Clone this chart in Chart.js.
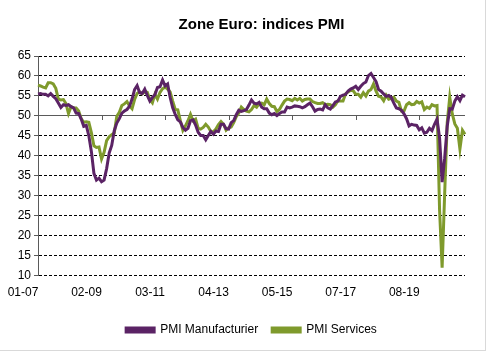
<!DOCTYPE html>
<html>
<head>
<meta charset="utf-8">
<script src="https://cdn.jsdelivr.net/npm/chart.js@4"></script>
<style>
  body { margin: 0; background: #fff; }
</style>
</head>
<body>
<canvas id="grafico" width="487" height="352"></canvas>
<script>
// PMI zone euro, mensuel, de 01-2007 a 01-2021
const manuf = [
  55.5, 55.6, 55.4, 55.4, 55.0, 55.6, 54.9, 54.3, 53.2, 52.1, 52.8, 52.6,
  52.8, 52.3, 52.0, 50.7, 50.6, 49.2, 47.4, 47.6, 45.0, 41.1, 35.6, 33.9,
  34.4, 33.5, 33.9, 36.8, 40.7, 42.6, 46.3, 48.2, 49.3, 50.7, 51.2, 51.6,
  52.4, 54.2, 56.6, 57.6, 55.8, 55.6, 56.7, 55.1, 53.7, 54.6, 55.3, 57.1,
  57.3, 59.0, 57.5, 58.0, 54.6, 52.0, 50.4, 49.0, 48.5, 47.1, 46.4, 46.9,
  48.8, 49.0, 47.7, 45.9, 45.1, 45.1, 44.0, 45.1, 46.1, 45.4, 46.2, 46.1,
  47.9, 47.9, 46.8, 46.7, 48.3, 48.8, 50.3, 51.4, 51.1, 51.3, 51.6, 52.7,
  54.0, 53.2, 53.0, 53.4, 52.2, 51.8, 51.8, 50.7, 50.3, 50.6, 50.1, 50.6,
  51.0, 51.0, 52.2, 52.0, 52.2, 52.5, 52.4, 52.3, 52.0, 52.3, 52.8, 53.2,
  52.3, 51.2, 51.6, 51.7, 51.5, 52.8, 52.0, 51.7, 52.6, 53.5, 53.7, 54.9,
  55.2, 55.4, 56.2, 56.7, 57.0, 57.4, 56.6, 57.4, 58.1, 58.5, 60.1, 60.6,
  59.6, 58.6, 56.6, 56.2, 55.5, 54.9, 55.1, 54.6, 53.2, 52.0, 51.8, 51.4,
  50.5, 49.3, 47.5, 47.9, 47.7, 47.6, 46.5, 47.0, 45.7, 45.9, 46.9, 46.3,
  47.9, 49.2, 44.5, 33.4, 39.4, 47.4, 51.8, 51.7, 53.7, 54.8, 53.8, 55.2,
  54.8
];

const services = [
  57.7, 57.5, 57.2, 57.0, 58.3, 58.3, 58.0, 56.9, 54.2, 54.0, 54.1, 53.1,
  50.6, 52.3, 52.0, 52.0, 51.2, 49.3, 48.4, 48.5, 48.4, 45.8, 42.5, 42.1,
  42.2, 39.2, 40.9, 43.8, 44.8, 45.3, 45.7, 49.9, 50.9, 52.6, 53.0, 53.6,
  52.5, 51.8, 54.1, 55.6, 56.0, 55.5, 56.0, 55.9, 54.1, 53.3, 55.4, 54.2,
  55.9, 56.8, 57.2, 56.7, 56.0, 53.7, 51.6, 51.5, 48.8, 46.4, 47.5, 48.8,
  50.4, 48.8, 49.2, 46.9, 46.7, 47.1, 47.9, 47.2, 46.1, 46.0, 46.7, 47.8,
  48.6, 47.9, 46.4, 47.0, 47.2, 48.3, 49.8, 50.7, 52.2, 51.6, 51.2, 51.0,
  51.6, 52.6, 52.2, 53.1, 53.2, 52.8, 54.2, 53.1, 52.4, 52.3, 51.1, 51.6,
  52.7, 53.7, 54.2, 54.1, 53.8, 54.4, 54.0, 54.4, 53.7, 54.1, 54.2, 54.2,
  53.6, 53.3, 53.1, 53.1, 53.3, 52.8, 52.9, 52.8, 52.2, 52.8, 53.8, 53.7,
  53.7, 55.5, 56.0, 56.4, 56.3, 55.4, 55.4, 54.7, 55.8, 55.0, 56.2, 56.6,
  58.0, 56.2, 54.9, 54.7, 53.8, 55.2, 54.2, 54.4, 54.7, 53.7, 53.4, 51.2,
  51.2, 52.8, 53.3, 52.8, 52.9, 53.6, 53.2, 53.5, 51.6, 52.2, 51.9, 52.8,
  52.5, 52.6, 26.4, 12.0, 30.5, 48.3, 54.7, 50.5, 48.0, 46.9, 41.7, 46.4,
  45.4
];

// etiquettes affichees sur l'axe x (une tous les 25 mois)
const tickLabels = ['01-07', '02-09', '03-11', '04-13', '05-15', '07-17', '08-19'];
const pasTick = 25;
const titre = 'Zone Euro: indices PMI';

// mois au format MM-AA
const mois = [];
for (let i = 0; i < manuf.length; i++) {
  const m = String(i % 12 + 1).padStart(2, '0');
  const a = String(7 + Math.floor(i / 12)).padStart(2, '0');
  mois.push(m + '-' + a);
}

const violet = '#5b2365';
const vert = '#7f9a2c';
const gris = '#5a5a5a';

// fond blanc, cadre, titre, et petits traits de l'axe x sur la ligne 50
const decor = {
  id: 'decor',
  beforeDraw(chart) {
    const ctx = chart.ctx;
    ctx.save();
    ctx.fillStyle = '#fff';
    ctx.fillRect(0, 0, chart.width, chart.height);
    ctx.strokeStyle = '#d9d9d9';
    ctx.lineWidth = 1;
    ctx.strokeRect(-0.5, -0.5, chart.width - 1, chart.height - 1);
    ctx.restore();
  },
  beforeDatasetsDraw(chart) {
    const ctx = chart.ctx;
    const x = chart.scales.x;
    const y0 = Math.round(chart.scales.y.getPixelForValue(50));
    ctx.save();
    ctx.strokeStyle = gris;
    ctx.lineWidth = 1;
    ctx.beginPath();
    for (let i = 0; i < mois.length; i += pasTick) {
      const px = Math.round(x.getPixelForValue(i)) + 0.5;
      ctx.moveTo(px, y0);
      ctx.lineTo(px, y0 + 4);
    }
    ctx.stroke();
    ctx.restore();
  },
  afterDraw(chart) {
    const ctx = chart.ctx;
    const a = chart.chartArea;
    ctx.save();
    ctx.fillStyle = '#000';
    ctx.font = 'bold 15px "Liberation Sans"';
    ctx.textAlign = 'center';
    ctx.textBaseline = 'middle';
    ctx.fillText(titre, (a.left + a.right) / 2 + 10, 25);
    ctx.restore();
  }
};

new Chart(document.getElementById('grafico'), {
  type: 'line',
  data: {
    labels: mois,
    datasets: [{
      label: 'PMI Manufacturier',
      data: manuf,
      borderColor: violet,
      backgroundColor: violet,
      borderWidth: 3,
      pointRadius: 0,
      tension: 0
    }, {
      label: 'PMI Services',
      data: services,
      borderColor: vert,
      backgroundColor: vert,
      borderWidth: 3,
      pointRadius: 0,
      tension: 0
    }]
  },
  options: {
    responsive: false,
    animation: false,
    layout: { padding: { left: 0, right: 22, top: 56, bottom: 6 } },
    plugins: {
      title: { display: false },
      legend: {
        position: 'bottom',
        fullSize: false,
        labels: {
          color: '#000',
          font: { family: 'Liberation Sans', size: 12 },
          boxWidth: 28,
          boxHeight: 4,
          padding: 14
        }
      },
      tooltip: { enabled: false }
    },
    scales: {
      x: {
        grid: { display: false, drawTicks: false },
        border: { display: false },
        ticks: {
          autoSkip: false,
          maxRotation: 0,
          minRotation: 0,
          padding: 10,
          labelOffset: -15,
          color: '#000',
          font: { family: 'Liberation Sans', size: 12 },
          callback: (val, i) => i % pasTick === 0 ? tickLabels[i / pasTick] : ''
        }
      },
      y: {
        min: 10,
        max: 65,
        afterFit: s => { s.width = 38; },
        ticks: {
          stepSize: 5,
          padding: 3,
          color: '#000',
          font: { family: 'Liberation Sans', size: 12 }
        },
        grid: {
          color: c => c.tick && c.tick.value === 50 ? gris : '#000',
          lineWidth: 1,
          tickLength: 4,
          tickColor: gris
        },
        border: {
          display: true,
          color: gris,
          width: 1,
          dash: c => c.tick && c.tick.value === 50 ? [] : [3, 2]
        }
      }
    }
  },
  plugins: [decor]
});
</script>
</body>
</html>
